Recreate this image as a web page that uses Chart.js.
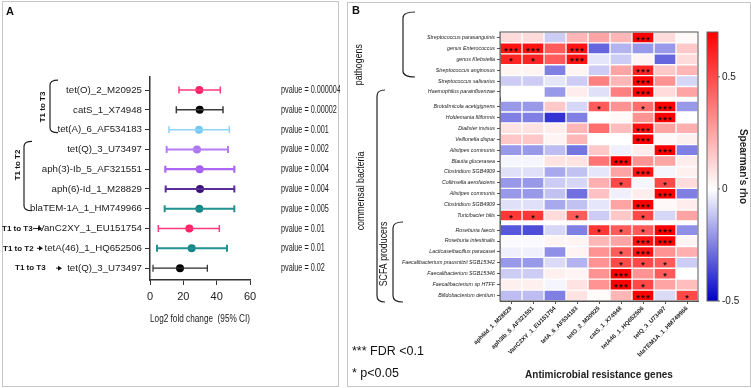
<!DOCTYPE html>
<html>
<head>
<meta charset="utf-8">
<script src="https://cdn.jsdelivr.net/npm/chart.js@4.4.1/dist/chart.umd.min.js"></script>
<style>
  html, body { margin: 0; padding: 0; background: #fff; }
  body { width: 751px; height: 388px; position: relative; overflow: hidden; }
  .box { position: absolute; border: 1px solid #c6c6c6; box-sizing: border-box; }
  #boxA { left: 2px; top: 1px; width: 337px; height: 386px; }
  #boxB { left: 347px; top: 2px; width: 404px; height: 385px; }
  canvas { position: absolute; }
  #cA { left: 0; top: 0; }
  #cB { left: 347px; top: 2px; }
</style>
</head>
<body>
<div class="box" id="boxA"></div>
<div class="box" id="boxB"></div>
<canvas id="cA" width="340" height="388"></canvas>
<canvas id="cB" width="404" height="386"></canvas>
<script>
const SANS = "'Liberation Sans',Arial,sans-serif";
Chart.defaults.font.family = SANS;
Chart.defaults.color = '#222';

// ---------- panel A: forest plot ----------
const genesA = ['tet(O)_2_M20925', 'catS_1_X74948', 'tet(A)_6_AF534183', 'tet(Q)_3_U73497',
  'aph(3)-Ib_5_AF321551', 'aph(6)-Id_1_M28829', 'blaTEM-1A_1_HM749966',
  'VanC2XY_1_EU151754', 'tetA(46)_1_HQ652506', 'tet(Q)_3_U73497'];
const log2fc = [29.6, 29.8, 29.4, 28.2, 29.8, 30.0, 29.6, 23.6, 25.0, 18.0];
const ciLow  = [17.4, 15.8, 11.4, 10.0, 9.2, 9.4, 8.8, 5.0, 4.2, 1.8];
const ciHigh = [42.2, 43.8, 47.6, 46.8, 50.6, 50.6, 50.6, 41.6, 46.2, 34.4];
const pvals  = ['0.000004', '0.00002', '0.001', '0.002', '0.004', '0.004', '0.005', '0.01', '0.01', '0.02'];

const lineColA = ['#ff3a78', '#3a3a3a', '#8fd3f7', '#b57cf6', '#ac66f4', '#5a2d96', '#239191', '#ff3a78', '#239191', '#2a2a2a'];
const dotColA  = ['#ff1f66', '#000000', '#74c8f2', '#a978f0', '#a35ef0', '#3a1275', '#158585', '#ff1f66', '#158585', '#000000'];
const lineWA   = [1.5, 1.5, 1.5, 2, 2.2, 2, 2, 1.5, 2, 1.2];

const dsA = [];
genesA.forEach((g, i) => {
  const y = i + 1;
  dsA.push({
    type: 'line',
    data: [{x: ciLow[i], y: y}, {x: ciHigh[i], y: y}],
    borderColor: lineColA[i], borderWidth: lineWA[i],
    pointStyle: 'line', pointRotation: 90, pointRadius: 3.5,
    pointBorderColor: lineColA[i], pointBorderWidth: lineWA[i],
    showLine: true, tension: 0
  });
  dsA.push({
    type: 'scatter',
    data: [{x: log2fc[i], y: y}],
    pointRadius: 4, pointBackgroundColor: dotColA[i], pointBorderWidth: 0
  });
});

function bracket(ctx, x, y1, y2, hook, r) {
  ctx.beginPath();
  ctx.moveTo(x + hook, y1);
  ctx.quadraticCurveTo(x, y1, x, y1 + r);
  ctx.lineTo(x, y2 - r);
  ctx.quadraticCurveTo(x, y2, x + hook, y2);
  ctx.stroke();
}
function arrow(ctx, x1, x2, y) {
  ctx.beginPath();
  ctx.moveTo(x1, y); ctx.lineTo(x2 - 3, y); ctx.stroke();
  ctx.beginPath();
  ctx.moveTo(x2, y); ctx.lineTo(x2 - 4, y - 2.5); ctx.lineTo(x2 - 4, y + 2.5); ctx.closePath(); ctx.fill();
}
function vtext(ctx, txt, x, y, rot, sx) {
  ctx.save();
  ctx.translate(x, y); ctx.rotate(rot); ctx.scale(sx || 1, 1);
  ctx.textAlign = 'center'; ctx.textBaseline = 'middle';
  ctx.fillText(txt, 0, 0);
  ctx.restore();
}

const annotA = {
  id: 'annotA',
  afterDraw(chart) {
    const ctx = chart.ctx, ys = chart.scales.y;
    const py = v => ys.getPixelForValue(v);
    ctx.save();
    ctx.fillStyle = '#111'; ctx.strokeStyle = '#222'; ctx.lineWidth = 1.2;
    ctx.font = 'bold 11px ' + SANS;
    ctx.fillText('A', 6, 15);
    bracket(ctx, 50, py(1) - 10, py(3) + 3, 8, 5);
    bracket(ctx, 24, py(4) - 8, py(7) + 2, 8, 5);
    ctx.font = 'bold 8px ' + SANS;
    vtext(ctx, 'T1 to T3', 43, 107, -Math.PI / 2);
    vtext(ctx, 'T1 to T2', 18, 165, -Math.PI / 2);
    ctx.textBaseline = 'middle'; ctx.textAlign = 'left';
    ctx.lineWidth = 1;
    ctx.fillText('T1 to T3', 2, py(8));
    arrow(ctx, 33, 42, py(8));
    ctx.fillText('T1 to T2', 3, py(9));
    arrow(ctx, 37, 43, py(9));
    ctx.fillText('T1 to T3', 15, py(10));
    arrow(ctx, 56, 62, py(10));
    // p-values, set in a condensed face like the original
    ctx.fillStyle = '#222';
    ctx.font = '11px ' + SANS;
    pvals.forEach((p, i) => {
      ctx.save();
      ctx.translate(281, py(i + 1)); ctx.scale(0.66, 1);
      ctx.fillText('pvalue = ' + p, 0, 0);
      ctx.restore();
    });
    ctx.restore();
  }
};

new Chart(document.getElementById('cA'), {
  type: 'scatter',
  data: {datasets: dsA},
  options: {
    responsive: false, animation: false,
    layout: {padding: {top: 77, left: 0, right: 90, bottom: 0}},
    plugins: {legend: {display: false}, tooltip: {enabled: false}},
    scales: {
      x: {
        type: 'linear', min: 0, max: 60,
        ticks: {stepSize: 20, font: {size: 11}, padding: 5},
        grid: {drawOnChartArea: false, tickLength: 5, color: '#333', lineWidth: 1},
        border: {color: '#333', width: 1.5},
        title: {display: true, text: 'Log2 fold change  (95% CI)', font: {size: 10.5}, padding: {top: 0, bottom: 63}},
        afterFit(s) { s.height = 108; }
      },
      y: {
        type: 'linear', reverse: true, min: 0.34, max: 10.6,
        afterBuildTicks(s) { s.ticks = genesA.map((g, i) => ({value: i + 1})); },
        ticks: {autoSkip: false, font: {size: 9.7}, padding: 3, callback: v => genesA[v - 1]},
        grid: {drawOnChartArea: false, tickLength: 5, color: '#333', lineWidth: 1},
        border: {color: '#333', width: 1.5},
        afterFit(s) { s.width = 150; }
      }
    }
  },
  plugins: [annotA]
});

// ---------- panel B: heatmap ----------
const taxa = ['Streptococcus parasanguinis', 'genus Enterococcus', 'genus Klebsiella',
  'Streptococcus anginosus', 'Streptococcus salivarius', 'Haemophilus parainfluenzae',
  'Brotolimicola acetigignens', 'Holdemania filiformis', 'Dialister invisus', 'Veillonella dispar',
  'Alistipes communis', 'Blautia glucerasea', 'Clostridium SGB4909', 'Collinsella aerofaciens',
  'Alistipes communis', 'Clostridium SGB4909', 'Turicibacter bilis',
  'Roseburia faecis', 'Roseburia intestinalis', 'Lacticaseibacillus paracasei',
  'Faecalibacterium prausnitzii SGB15342', 'Faecalibacterium SGB15346',
  'Faecalibacterium sp HTFF', 'Bifidobacterium dentium'];
const taxaGroup = [0, 0, 0, 0, 0, 0, 1, 1, 1, 1, 1, 1, 1, 1, 1, 1, 1, 2, 2, 2, 2, 2, 2, 2];
const arGenes = ['aph6Id_1_M28829', 'aph3Ib_5_AF321551', 'VanC2XY_1_EU151754', 'tetA_6_AF534183',
  'tetO_2_M20925', 'catS_1_X74948', 'tetA46_1_HQ652506', 'tetQ_3_U73497', 'blaTEM1A_1_HM749966'];

// Spearman's rho, one row per taxon, columns follow arGenes
const rho = [
  [0.10, 0.10, -0.10, 0.20, 0.25, 0.20, 0.70, 0.10, 0.02],
  [0.65, 0.65, 0.45, 0.65, -0.30, -0.15, -0.20, -0.20, 0.15],
  [0.60, 0.60, 0.45, 0.65, -0.05, -0.10, 0.03, -0.30, 0.10],
  [0.03, 0.03, -0.25, 0.03, -0.10, 0.25, 0.60, 0.15, 0.20],
  [-0.10, -0.10, -0.05, -0.10, 0.35, 0.20, 0.70, 0.30, -0.08],
  [0.00, 0.00, -0.20, 0.05, -0.06, 0.35, 0.70, 0.10, 0.25],
  [-0.20, -0.20, 0.15, -0.08, 0.45, 0.30, 0.40, 0.70, -0.20],
  [-0.25, -0.25, -0.40, -0.25, 0.00, 0.02, 0.30, 0.70, 0.00],
  [0.08, 0.08, 0.05, 0.20, 0.40, 0.18, 0.65, 0.25, 0.22],
  [0.15, 0.15, 0.03, 0.20, 0.00, 0.00, 0.70, 0.02, 0.04],
  [-0.20, -0.20, -0.13, -0.27, 0.15, -0.03, 0.05, 0.70, -0.25],
  [-0.02, -0.02, 0.08, 0.08, 0.38, 0.70, 0.30, 0.25, 0.05],
  [-0.06, -0.06, -0.17, -0.12, -0.05, 0.25, 0.65, -0.02, 0.04],
  [-0.20, -0.20, -0.10, -0.08, 0.22, 0.50, -0.02, 0.50, 0.10],
  [-0.20, -0.20, -0.12, -0.28, 0.17, -0.03, 0.05, 0.70, -0.25],
  [-0.06, -0.06, -0.17, -0.12, -0.05, 0.25, 0.70, 0.02, 0.05],
  [0.55, 0.55, 0.10, 0.45, -0.10, 0.15, 0.50, -0.08, 0.25],
  [-0.33, -0.35, -0.08, -0.25, 0.55, 0.45, 0.45, 0.70, -0.22],
  [-0.01, -0.01, 0.03, 0.03, 0.20, 0.25, 0.65, 0.70, 0.03],
  [-0.03, -0.03, -0.22, 0.03, 0.30, 0.45, 0.65, 0.30, 0.22],
  [-0.20, -0.20, -0.07, -0.15, 0.30, 0.50, 0.50, 0.45, -0.10],
  [-0.10, -0.10, 0.04, 0.03, 0.30, 0.70, 0.30, 0.45, 0.00],
  [0.04, 0.04, -0.02, 0.08, 0.30, 0.70, 0.50, 0.25, 0.18],
  [-0.13, -0.13, -0.25, 0.08, 0.01, 0.20, 0.70, -0.07, 0.50]
];
// significance: 3 = FDR < 0.1 (***), 1 = p < 0.05 (*)
const sig = [
  [0, 0, 0, 0, 0, 0, 3, 0, 0],
  [3, 3, 0, 3, 0, 0, 0, 0, 0],
  [1, 1, 0, 3, 0, 0, 0, 0, 0],
  [0, 0, 0, 0, 0, 0, 3, 0, 0],
  [0, 0, 0, 0, 0, 0, 3, 0, 0],
  [0, 0, 0, 0, 0, 0, 3, 0, 0],
  [0, 0, 0, 0, 1, 0, 1, 3, 0],
  [0, 0, 0, 0, 0, 0, 0, 3, 0],
  [0, 0, 0, 0, 0, 0, 3, 0, 0],
  [0, 0, 0, 0, 0, 0, 3, 0, 0],
  [0, 0, 0, 0, 0, 0, 0, 3, 0],
  [0, 0, 0, 0, 0, 3, 0, 0, 0],
  [0, 0, 0, 0, 0, 0, 3, 0, 0],
  [0, 0, 0, 0, 0, 1, 0, 1, 0],
  [0, 0, 0, 0, 0, 0, 0, 3, 0],
  [0, 0, 0, 0, 0, 0, 3, 0, 0],
  [1, 1, 0, 1, 0, 0, 1, 0, 0],
  [0, 0, 0, 0, 1, 1, 1, 3, 0],
  [0, 0, 0, 0, 0, 0, 3, 3, 0],
  [0, 0, 0, 0, 0, 1, 3, 0, 0],
  [0, 0, 0, 0, 0, 1, 1, 1, 0],
  [0, 0, 0, 0, 0, 3, 0, 1, 0],
  [0, 0, 0, 0, 0, 3, 1, 0, 0],
  [0, 0, 0, 0, 0, 0, 3, 0, 1]
];
const rhoMin = -0.5, rhoMax = 0.7, cbTicks = [0.5, 0, -0.5];

const GAP = 1 / 3;
const rowTop = i => i + taxaGroup[i] * GAP;
const yMaxB = taxa.length + 2 * GAP;

function rhoColor(v) {
  if (v >= 0) {
    const t = Math.min(v / rhoMax, 1), c = Math.round(255 * (1 - t));
    return `rgb(255,${c},${c})`;
  }
  const t = Math.min(v / rhoMin, 1), c = Math.round(255 * (1 - t));
  return `rgb(${c},${c},${Math.round(255 - 55 * t)})`;
}

const dsB = taxa.map((t, i) => ({
  data: arGenes.map(() => [rowTop(i), rowTop(i) + 1]),
  backgroundColor: rho[i].map(rhoColor),
  borderColor: 'rgba(255,255,255,0.45)', borderWidth: 1, borderSkipped: false,
  grouped: false, barPercentage: 1, categoryPercentage: 1, yAxisID: 'y'
}));

const annotB = {
  id: 'annotB',
  afterDatasetsDraw(chart) {
    const ctx = chart.ctx, xs = chart.scales.x, ys = chart.scales.y, a = chart.chartArea;
    ctx.save();
    // frame
    ctx.strokeStyle = '#555'; ctx.lineWidth = 1;
    ctx.strokeRect(a.left, a.top, a.right - a.left, a.bottom - a.top);
    // stars
    ctx.fillStyle = '#111'; ctx.font = 'bold 9px ' + SANS;
    ctx.textAlign = 'center'; ctx.textBaseline = 'alphabetic';
    sig.forEach((row, i) => row.forEach((s, j) => {
      if (!s) return;
      const cx = xs.getPixelForValue(j), cy = ys.getPixelForValue(rowTop(i) + 0.5) + 5.2;
      if (s === 3) { [-5, 0, 5].forEach(d => ctx.fillText('*', cx + d, cy)); }
      else ctx.fillText('*', cx, cy);
    }));
    // colour bar
    const cb = chart.scales.cb;
    const x0 = cb.left + 9, w = 11, yt = cb.getPixelForValue(rhoMax), yb = cb.getPixelForValue(rhoMin);
    const grad = ctx.createLinearGradient(0, yt, 0, yb);
    [0.7, 0.35, 0, -0.25, -0.5].forEach(v => grad.addColorStop((yt - cb.getPixelForValue(v)) / (yt - yb), rhoColor(v)));
    ctx.fillStyle = grad;
    ctx.fillRect(x0, yt, w, yb - yt);
    ctx.strokeStyle = '#666';
    ctx.strokeRect(x0, yt, w, yb - yt);
    cbTicks.forEach(v => {
      const y = cb.getPixelForValue(v);
      ctx.beginPath(); ctx.moveTo(x0 + w, y); ctx.lineTo(x0 + w + 2, y); ctx.stroke();
    });
    // panel letter, groups, legend
    ctx.fillStyle = '#111'; ctx.strokeStyle = '#222'; ctx.lineWidth = 1.2;
    ctx.textAlign = 'left';
    ctx.font = 'bold 11px ' + SANS;
    ctx.fillText('B', 5, 12);
    ctx.font = '11px ' + SANS;
    const py = v => ys.getPixelForValue(v);
    vtext(ctx, 'pathogens', 12, (py(rowTop(0)) + py(rowTop(5) + 1)) / 2, -Math.PI / 2, 0.8);
    vtext(ctx, 'commensal bacteria', 14, 189, -Math.PI / 2, 0.8);
    vtext(ctx, 'SCFA producers', 37, 252, -Math.PI / 2, 0.8);
    bracket(ctx, 56, 10, 75, 12, 6);
    bracket(ctx, 30, 88, 300, 8, 6);
    bracket(ctx, 46, 220, 300, 10, 6);
    ctx.font = '12.5px ' + SANS;
    ctx.textBaseline = 'middle';
    ctx.fillText('*** FDR <0.1', 5, 350);
    ctx.fillText('* p<0.05', 5, 372);
    ctx.restore();
  }
};

new Chart(document.getElementById('cB'), {
  type: 'bar',
  data: {labels: arGenes, datasets: dsB},
  options: {
    responsive: false, animation: false,
    layout: {padding: {top: 4, left: 0, right: 0, bottom: 0}},
    plugins: {legend: {display: false}, tooltip: {enabled: false}},
    scales: {
      x: {
        type: 'category', position: 'bottom',
        ticks: {autoSkip: false, minRotation: 45, maxRotation: 45, padding: 1, font: {size: 6, weight: 'bold'}},
        grid: {drawOnChartArea: false, offset: false, tickLength: 3, color: '#555'},
        border: {color: '#555'},
        title: {display: true, text: 'Antimicrobial resistance genes', font: {size: 10, weight: 'bold'}, padding: {top: 0, bottom: 7}},
        afterFit(s) { s.height = 87; }
      },
      y: {
        type: 'linear', reverse: true, min: 0, max: yMaxB,
        afterBuildTicks(s) { s.ticks = taxa.map((t, i) => ({value: rowTop(i) + 0.5})); },
        ticks: {autoSkip: false, padding: 2, font: {size: 5.3, style: 'italic'},
          callback: (v, idx) => taxa[idx]},
        grid: {drawOnChartArea: false, tickLength: 3, color: '#555'},
        border: {color: '#555'},
        afterFit(s) { s.width = 153; }
      },
      cb: {
        type: 'linear', axis: 'y', position: 'right', min: rhoMin, max: rhoMax,
        afterBuildTicks(s) { s.ticks = cbTicks.map(v => ({value: v})); },
        ticks: {font: {size: 10}, padding: 24},
        grid: {drawOnChartArea: false, drawTicks: false},
        border: {display: false},
        title: {display: true, text: "Spearman's rho", font: {size: 10, weight: 'bold'}, padding: {top: 2, bottom: 0}},
        afterFit(s) { s.width = 53; }
      }
    }
  },
  plugins: [annotB]
});
</script>
</body>
</html>
